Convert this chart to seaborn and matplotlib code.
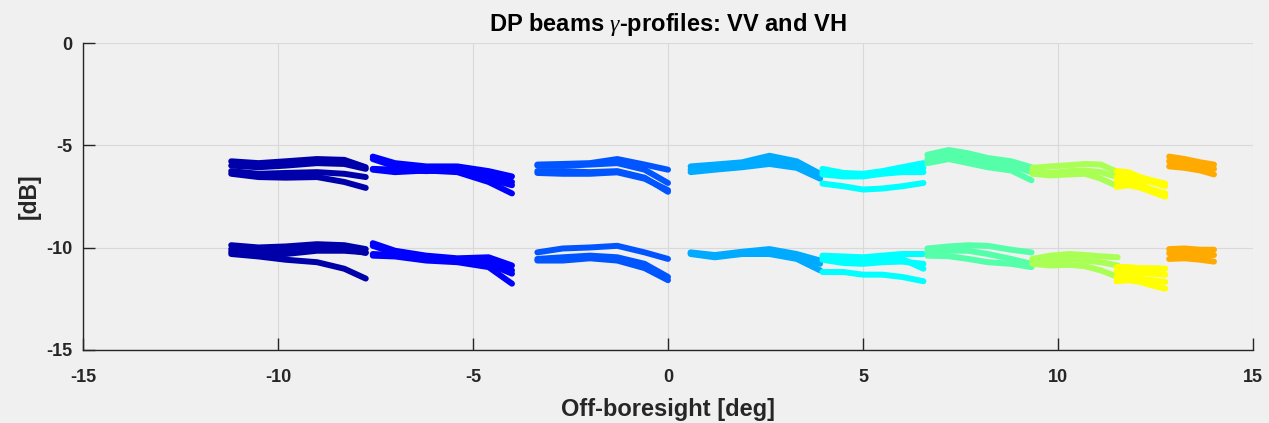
import numpy as np
import pandas as pd
import matplotlib
matplotlib.use("Agg")
import matplotlib.pyplot as plt
import seaborn as sns

# ---------------- data ----------------
BEAM_COLORS = ["#0000AA", "#0000FF", "#0055FF", "#00AAFF", "#00FFFF",
               "#55FFAA", "#AAFF55", "#FFFF00", "#FFAA00"]

B1_X = [-11.2, -10.5, -9.8, -9.0, -8.3, -7.75]
B1_VV = [[-5.78, -5.87, -5.78, -5.67, -5.71, -6.07],
         [-5.99, -6.07, -5.99, -5.87, -5.91, -6.15],
         [-6.26, -6.39, -6.35, -6.31, -6.39, -6.55],
         [-6.39, -6.55, -6.58, -6.55, -6.79, -7.08]]
B1_VH = [[-9.88, -9.99, -9.94, -9.83, -9.88, -10.07],
         [-10.07, -10.15, -10.15, -9.99, -10.04, -10.26],
         [-10.20, -10.36, -10.31, -10.15, -10.15, -10.23],
         [-10.31, -10.43, -10.59, -10.71, -11.03, -11.51]]

B2_X = [-7.57, -7.0, -6.2, -5.4, -4.6, -4.0]
B2_VV = [[-5.55, -5.87, -6.03, -6.03, -6.26, -6.52],
         [-6.15, -6.19, -6.26, -6.19, -6.47, -6.79],
         [-5.67, -6.03, -6.19, -6.26, -6.63, -6.95],
         [-6.19, -6.31, -6.23, -6.31, -6.79, -7.35]]
B2_VH = [[-9.78, -10.15, -10.39, -10.52, -10.47, -10.87],
         [-10.31, -10.36, -10.43, -10.63, -10.79, -11.27],
         [-9.91, -10.26, -10.59, -10.59, -10.68, -11.11],
         [-10.39, -10.43, -10.63, -10.71, -10.95, -11.76]]

B3_X = [-3.35, -2.7, -2.0, -1.3, -0.6, 0.0]
B3_VV = [[-5.94, -5.91, -5.87, -5.67, -5.94, -6.19],
         [-5.99, -6.00, -5.94, -5.87, -6.19, -6.84],
         [-6.26, -6.26, -6.31, -6.26, -6.58, -7.27],
         [-6.35, -6.39, -6.39, -6.32, -6.63, -7.19]]
B3_VH = [[-10.23, -10.04, -9.99, -9.91, -10.23, -10.55],
         [-10.55, -10.47, -10.39, -10.47, -10.79, -11.43],
         [-10.63, -10.63, -10.52, -10.63, -11.00, -11.59]]

B4_X = [0.58, 1.2, 1.9, 2.6, 3.3, 3.9]
B4_VV = [[-6.03, -5.94, -5.83, -5.51, -5.78, -6.39],
         [-6.19, -6.07, -5.94, -5.67, -5.94, -6.52],
         [-6.31, -6.19, -6.07, -5.91, -6.10, -6.63]]
B4_VH = [[-10.23, -10.36, -10.20, -10.07, -10.31, -10.63],
         [-10.26, -10.43, -10.23, -10.20, -10.43, -10.79],
         [-10.31, -10.47, -10.31, -10.31, -10.55, -11.11]]

B5_X = [3.96, 4.5, 5.0, 5.5, 6.0, 6.55]
B5_VV = [[-6.15, -6.35, -6.39, -6.26, -6.07, -5.87],
         [-6.31, -6.47, -6.48, -6.35, -6.23, -6.10],
         [-6.42, -6.52, -6.52, -6.39, -6.31, -6.31],
         [-6.87, -7.00, -7.16, -7.11, -7.00, -6.84]]
B5_VH = [[-10.39, -10.43, -10.47, -10.39, -10.31, -10.31],
         [-10.47, -10.68, -10.71, -10.59, -10.55, -11.03],
         [-10.59, -10.75, -10.79, -10.71, -10.68, -10.79],
         [-11.19, -11.19, -11.32, -11.32, -11.43, -11.64]]

B6_X = [6.65, 7.2, 7.7, 8.2, 8.8, 9.32]
B6_VV = [[-5.46, -5.23, -5.39, -5.62, -5.78, -6.07],
         [-5.67, -5.46, -5.62, -5.87, -5.99, -6.31],
         [-5.87, -5.67, -5.87, -6.07, -6.23, -6.71]]
B6_VH = [[-10.04, -9.94, -9.88, -9.91, -10.10, -10.23],
         [-10.20, -10.15, -10.15, -10.31, -10.55, -10.79],
         [-10.39, -10.42, -10.55, -10.71, -10.79, -10.95]]

B7_X = [9.34, 9.8, 10.3, 10.7, 11.1, 11.53]
B7_VV = [[-6.10, -6.03, -5.97, -5.91, -5.94, -6.31],
         [-6.26, -6.35, -6.26, -6.23, -6.31, -6.55],
         [-6.39, -6.47, -6.42, -6.39, -6.63, -7.00]]
B7_VH = [[-10.55, -10.39, -10.31, -10.36, -10.42, -10.47],
         [-10.68, -10.63, -10.55, -10.63, -10.71, -10.87],
         [-10.79, -10.87, -10.84, -10.91, -11.11, -11.43]]

B8_X = [11.5, 11.8, 12.1, 12.4, 12.75]
B8_VV = [[-6.26, -6.31, -6.55, -6.71, -6.87],
         [-6.55, -6.58, -6.71, -6.79, -7.00],
         [-6.79, -6.87, -6.95, -7.16, -7.35],
         [-7.03, -6.95, -7.06, -7.27, -7.51]]
B8_VH = [[-10.95, -10.95, -11.00, -11.00, -11.03],
         [-11.16, -11.19, -11.23, -11.27, -11.32],
         [-11.43, -11.48, -11.51, -11.59, -11.67],
         [-11.64, -11.59, -11.67, -11.84, -12.00]]

B9_X = [12.85, 13.25, 13.65, 14.0]
B9_VV = [[-5.55, -5.67, -5.83, -5.94],
         [-5.78, -5.87, -6.03, -6.15],
         [-6.03, -6.10, -6.23, -6.42]]
B9_VH = [[-10.07, -10.04, -10.10, -10.10],
         [-10.27, -10.31, -10.36, -10.36],
         [-10.55, -10.52, -10.59, -10.68]]

X_TICKS = [-15, -10, -5, 0, 5, 10, 15]
Y_TICKS = [-15, -10, -5, 0]
TITLE = r"DP beams $\gamma$-profiles: VV and VH"
XLABEL = "Off-boresight [deg]"
YLABEL = "[dB]"

BEAMS = [(B1_X, B1_VV, B1_VH), (B2_X, B2_VV, B2_VH), (B3_X, B3_VV, B3_VH),
         (B4_X, B4_VV, B4_VH), (B5_X, B5_VV, B5_VH), (B6_X, B6_VV, B6_VH),
         (B7_X, B7_VV, B7_VH), (B8_X, B8_VV, B8_VH), (B9_X, B9_VV, B9_VH)]

rows = []
for b, (xs, vv, vh) in enumerate(BEAMS):
    for pol, lines in (("VV", vv), ("VH", vh)):
        for k, ys in enumerate(lines):
            tr = f"b{b}_{pol}_{k}"
            for x, y in zip(xs, ys):
                rows.append({"x": x, "y": y, "beam": b, "trace": tr})
df = pd.DataFrame(rows)

# ---------------- style ----------------
sns.set_theme(style="white")
BG = "#f0f0f0"
TXT = "#262626"
plt.rcParams["font.family"] = ["Liberation Sans", "DejaVu Sans"]
plt.rcParams["mathtext.fontset"] = "custom"
plt.rcParams["mathtext.it"] = "Liberation Serif:italic"
plt.rcParams["mathtext.rm"] = "Liberation Sans"

fig = plt.figure(figsize=(12.69, 4.23), dpi=100, facecolor=BG)
ax = fig.add_axes([83 / 1269, 1 - 350 / 423, 1170 / 1269, 307 / 423])
ax.set_facecolor(BG)

sns.lineplot(data=df, x="x", y="y", hue="beam", units="trace", estimator=None,
             sort=False, palette=BEAM_COLORS, legend=False, ax=ax,
             linewidth=4.3, solid_capstyle="round", solid_joinstyle="round")

ax.set_xlim(-15, 15)
ax.set_ylim(-15, 0)
ax.set_xticks(X_TICKS)
ax.set_yticks(Y_TICKS)
ax.set_xticklabels([str(t) for t in X_TICKS], fontweight="bold", fontsize=13, color=TXT)
ax.set_yticklabels([str(t) for t in Y_TICKS], fontweight="bold", fontsize=13, color=TXT)
ax.grid(True, color="#d9d9d9", linewidth=0.8)
ax.set_axisbelow(True)
for s in ("top", "right"):
    ax.spines[s].set_visible(False)
for s in ("left", "bottom"):
    ax.spines[s].set_color(TXT)
    ax.spines[s].set_linewidth(1.0)
ax.tick_params(direction="in", length=8.4, width=1.0, color=TXT, left=True, bottom=True)
ax.tick_params(axis="x", pad=14)
ax.tick_params(axis="y", pad=7.5)

ax.set_xlabel(XLABEL, fontweight="bold", fontsize=17, color=TXT, labelpad=8)
ax.set_ylabel(YLABEL, fontweight="bold", fontsize=16.5, color=TXT, labelpad=4)
ax.set_title(TITLE, fontweight="bold", fontsize=17, color="#000000", pad=9)

fig.savefig("out.png", dpi=100, facecolor=BG)
